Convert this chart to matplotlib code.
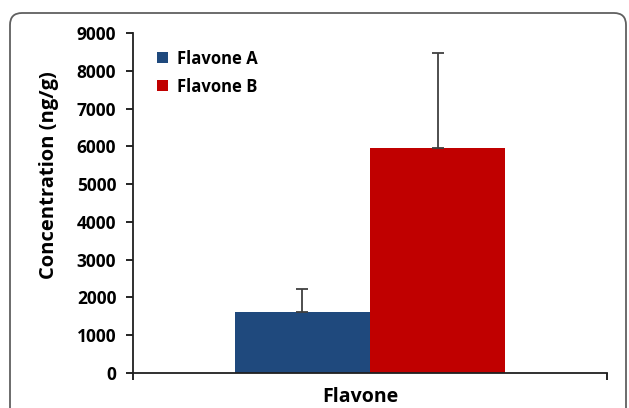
import matplotlib
matplotlib.use('Agg')
import matplotlib.pyplot as plt
from matplotlib.patches import FancyBboxPatch
from matplotlib.transforms import IdentityTransform

# data
category = 'Flavone'
series = ['Flavone A', 'Flavone B']
values = [1620, 5960]
errors = [610, 2510]
colors = ['#1F497D', '#C00000']

plt.rcParams['font.family'] = ['Open Sans', 'DejaVu Sans']
plt.rcParams['font.weight'] = 'bold'

fig = plt.figure(figsize=(6.29, 4.08), dpi=100)
ax = fig.add_axes([0.2114, 0.0858, 0.7536, 0.8333])

bar_w = 0.285
offsets = [-bar_w / 2, bar_w / 2]
for name, val, err, col, off in zip(series, values, errors, colors, offsets):
    ax.bar(0.5 + off, val, width=bar_w, color=col, label=name, zorder=2)
    ax.errorbar(0.5 + off, val, yerr=[[0], [err]], fmt='none', ecolor='#404040',
                elinewidth=1.3, capsize=4, capthick=1.3, zorder=3)

ax.set_xlim(0, 1)
ax.set_ylim(0, 9000)
ax.set_yticks(range(0, 9001, 1000))
ax.tick_params(axis='y', direction='out', length=5, width=1.2, labelsize=12.5, pad=7)
ax.set_xticks([0, 1])
ax.set_xticklabels(['', ''])
ax.tick_params(axis='x', direction='out', length=5, width=1.2)
ax.set_xticks([0.48], minor=True)
ax.set_xticklabels([category], minor=True, fontsize=14, fontweight='bold')
ax.tick_params(axis='x', which='minor', length=0, pad=10)
for t in ax.get_yticklabels():
    t.set_fontweight('bold')

for s in ['top', 'right']:
    ax.spines[s].set_visible(False)
for s in ['left', 'bottom']:
    ax.spines[s].set_linewidth(1.3)
    ax.spines[s].set_color('#202020')

ax.set_ylabel('Concentration (ng/g)', fontsize=14.5, fontweight='bold')
ax.yaxis.set_label_coords(-0.156, 0.582)

leg = ax.legend(loc='upper left', bbox_to_anchor=(0.026, 0.985), frameon=False,
                fontsize=12, handlelength=0.65, handleheight=0.65, handletextpad=0.55,
                labelspacing=0.6, borderaxespad=0.3)
for t in leg.get_texts():
    t.set_fontweight('bold')

frame = FancyBboxPatch((10, -30), 616, 425, boxstyle='round,pad=0,rounding_size=12',
                       transform=IdentityTransform(), fill=False, edgecolor='#606060',
                       linewidth=1.3)
fig.patches.append(frame)

fig.savefig('out.png', dpi=100)
